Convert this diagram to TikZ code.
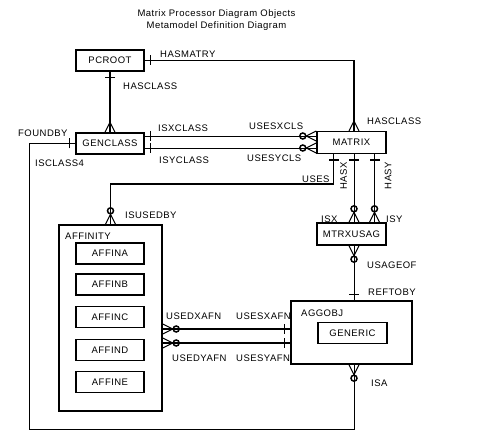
\documentclass[tikz,border=0pt]{standalone}
\usepackage{fontspec}
\setmainfont{Liberation Sans}[LetterSpace=5]
\usetikzlibrary{calc}

\tikzset{
    entity/.style = {draw, line width=1.4pt, minimum width=68pt, minimum height=21pt, inner sep=0pt},
    rel/.style = {draw, line width=0.8pt},
    relthick/.style = {draw, line width=1.6pt},
    lbl/.style = {inner sep=0pt},
    pics/one/.style = {code={\draw[line width=1.2pt] (-6pt,-5pt) -- (-6pt,5pt);}},
    pics/many/.style = {code={\draw[line width=1pt] (-10pt,0pt) -- (0pt,-5pt) (-10pt,0pt) -- (0pt,5pt);}},
    pics/zeromany/.style = {code={
        \draw[line width=1pt] (-10pt,0pt) -- (0pt,-5pt) (-10pt,0pt) -- (0pt,5pt);
        \draw[line width=1.5pt] (-13.5pt,0pt) circle (3pt);}},
}

\begin{document}
\begin{tikzpicture}[x=1pt, y=-1pt, font=\fontsize{9.5}{11}\selectfont]
                \useasboundingbox (0,0) rectangle (483,435);

                \node[lbl](title1)at(216.5,14){Matrix Processor Diagram Objects};
                \node[lbl](title2)at(216.5,26){Metamodel Definition Diagram};

                \node[entity](pcroot)at(110,60.5){PCROOT};
                \node[entity](genclass)at(110,143.5){GENCLASS};
                \node[entity, minimum width=69pt, minimum height=21.5pt](matrix)at(351.5,142.5){MATRIX};
                \node[entity, minimum width=69pt, minimum height=22pt](mtrxusag)at(351.5,234){MTRXUSAG};
                \node[entity, minimum width=121pt, minimum height=63pt](aggobj)at(351.5,332.5){};
                \node[entity, minimum width=69pt](generic)at(352.5,333){GENERIC};
                \node[entity, minimum width=103pt, minimum height=186pt](affinity)at(110.5,318){};
                \node[entity](affina)at(110,253.5){AFFINA};
                \node[entity](affinb)at(110,284.5){AFFINB};
                \node[entity](affinc)at(110,317){AFFINC};
                \node[entity](affind)at(110,350){AFFIND};
                \node[entity](affine)at(110,382){AFFINE};

                \coordinate(colm)at(354,0);
                \coordinate(coluses)at(333.5,0);
                \coordinate(colhasy)at(374.5,0);
                \coordinate(colleft)at(29,0);
                \coordinate(rowx)at(0,136);
                \coordinate(rowy)at(0,148);
                \coordinate(rowuses)at(0,184);
                \coordinate(rowbottom)at(0,429);
                \coordinate(rowxafn)at(0,329);
                \coordinate(rowyafn)at(0,343);
                \coordinate(hm)at(pcroot.east -| colm);

                \path[rel](pcroot.east)to(hm);
                \path[relthick](hm)to(matrix.north -| colm);
                \path[relthick](pcroot.south)to(genclass.north);
                \path[rel](genclass.east |- rowx)to(matrix.west |- rowx);
                \path[rel](genclass.east |- rowy)to(matrix.west |- rowy);
                \path[relthick](matrix.south -| coluses)to(coluses |- rowuses) -| (affinity.north);
                \path[rel](matrix.south -| colm)to(mtrxusag.north -| colm);
                \path[relthick](matrix.south -| colhasy)to(mtrxusag.north -| colhasy);
                \path[rel](mtrxusag.south -| colm)to(aggobj.north -| colm);
                \path[relthick](affinity.east |- rowxafn)to(aggobj.west |- rowxafn);
                \path[relthick](affinity.east |- rowyafn)to(aggobj.west |- rowyafn);
                \path[rel](aggobj.south -| colm) |- (colleft |- rowbottom) |- (genclass.west);

                \path(pcroot.east) pic[rotate=180]{one};
                \path(matrix.north -| colm) pic[rotate=-90]{many};
                \path(pcroot.south) pic[rotate=90]{one};
                \path(genclass.north) pic[rotate=-90]{many};
                \path(genclass.west) pic{one};
                \path(aggobj.south -| colm) pic[rotate=90]{zeromany};
                \path(genclass.east |- rowx) pic[rotate=180]{one};
                \path(genclass.east |- rowy) pic[rotate=180]{one};
                \path(matrix.west |- rowx) pic{zeromany};
                \path(matrix.west |- rowy) pic{zeromany};
                \path(matrix.south -| coluses) pic[rotate=90]{one};
                \path(affinity.north) pic[rotate=-90]{zeromany};
                \path(matrix.south -| colm) pic[rotate=90]{one};
                \path(matrix.south -| colhasy) pic[rotate=90]{one};
                \path(mtrxusag.north -| colm) pic[rotate=-90]{zeromany};
                \path(mtrxusag.north -| colhasy) pic[rotate=-90]{zeromany};
                \path(mtrxusag.south -| colm) pic[rotate=90]{zeromany};
                \path(aggobj.north -| colm) pic[rotate=-90]{one};
                \path(affinity.east |- rowxafn) pic[rotate=180]{zeromany};
                \path(affinity.east |- rowyafn) pic[rotate=180]{zeromany};
                \path(aggobj.west |- rowxafn) pic{one};
                \path(aggobj.west |- rowyafn) pic{one};

                \node[lbl, anchor=west](hasmatry)at(160,54){HASMATRY};
                \node[lbl, anchor=west](hasclassa)at(123,86.5){HASCLASS};
                \node[lbl, anchor=west](foundby)at(18,133){FOUNDBY};
                \node[lbl, anchor=west](isclass4)at(35,163){ISCLASS4};
                \node[lbl, anchor=west](isxclass)at(158,128.5){ISXCLASS};
                \node[lbl, anchor=west](isyclass)at(159,160){ISYCLASS};
                \node[lbl, anchor=west](usesxcls)at(249,126.5){USESXCLS};
                \node[lbl, anchor=west](usesycls)at(247,158.5){USESYCLS};
                \node[lbl, anchor=west](hasclassb)at(367,121.5){HASCLASS};
                \node[lbl, anchor=west](uses)at(302,179){USES};
                \node[lbl, rotate=90](hasx)at(343.5,176){HASX};
                \node[lbl, rotate=90](hasy)at(388,175.5){HASY};
                \node[lbl, anchor=west](isx)at(321,219){ISX};
                \node[lbl, anchor=west](isy)at(386,219){ISY};
                \node[lbl, anchor=west](isusedby)at(125,215){ISUSEDBY};
                \node[lbl, anchor=west](usageof)at(367,265){USAGEOF};
                \node[lbl, anchor=west](reftoby)at(368,292.5){REFTOBY};
                \node[lbl, anchor=west](aggobjlbl)at(301,313.5){AGGOBJ};
                \node[lbl, anchor=west](affinitylbl)at(65,236){AFFINITY};
                \node[lbl, anchor=west](usedxafn)at(166,316.5){USEDXAFN};
                \node[lbl, anchor=west](usesxafn)at(236,316.5){USESXAFN};
                \node[lbl, anchor=west](usedyafn)at(172,358.5){USEDYAFN};
                \node[lbl, anchor=west](usesyafn)at(236,358.5){USESYAFN};
                \node[lbl, anchor=west](isa)at(371,383.5){ISA};
            \end{tikzpicture}
\end{document}
